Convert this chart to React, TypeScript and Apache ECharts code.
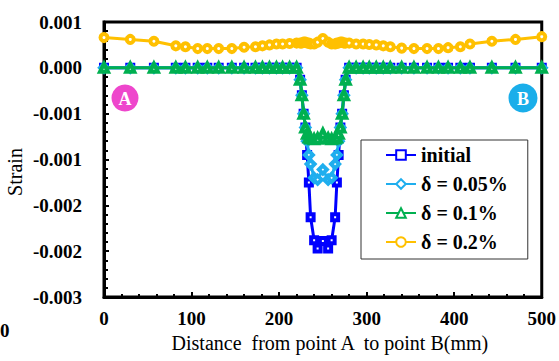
import React, { useEffect, useRef } from "react";
import * as echarts from "echarts";

// Distance from point A (mm)
const positions = [
  0, 30, 57, 82, 93, 107, 118, 131, 146, 160, 173, 181, 189, 197, 204, 212,
  220, 224, 226, 228, 230, 232, 234, 236, 240, 244, 250, 256, 260, 264, 266,
  268, 270, 272, 274, 276, 280, 288, 296, 303, 311, 319, 327, 340, 354, 369,
  382, 393, 407, 418, 443, 470, 500,
];

const flatLeft = [0, 0, 0, 0, 0, 0, 0, 0, 0, 0, 0, 0, 0, 0, 0, 0, 0];
const flatRight = [0, 0, 0, 0, 0, 0, 0, 0, 0, 0, 0, 0, 0, 0, 0, 0, 0];

const initialDip = [
  -0.00013, -0.0003, -0.0005, -0.00065, -0.00095, -0.00125, -0.00163, -0.00188,
  -0.00197, -0.00189, -0.00197, -0.00188, -0.00163, -0.00125, -0.00095,
  -0.00065, -0.0005, -0.0003, -0.00013,
];
const d005Dip = [
  -0.00013, -0.0003, -0.0005, -0.00065, -0.0008, -0.00095, -0.00105, -0.0012,
  -0.00122, -0.00111, -0.00122, -0.0012, -0.00105, -0.00095, -0.0008,
  -0.00065, -0.0005, -0.0003, -0.00013,
];
const d01Dip = [
  -0.00013, -0.0003, -0.0005, -0.00065, -0.00072, -0.00076, -0.00077, -0.00078,
  -0.00077, -0.00072, -0.00077, -0.00078, -0.00077, -0.00076, -0.00072,
  -0.00065, -0.0005, -0.0003, -0.00013,
];

const initialStrain = [...flatLeft, ...initialDip, ...flatRight];
const d005Strain = [...flatLeft, ...d005Dip, ...flatRight];
const d01Strain = [...flatLeft, ...d01Dip, ...flatRight];
const d02Strain = [
  0.00033, 0.00031, 0.00029, 0.00024, 0.00023, 0.00021, 0.00021, 0.00021,
  0.00021, 0.000225, 0.00023, 0.00024, 0.00025, 0.00026, 0.00026, 0.000265,
  0.00027, 0.00027, 0.00027, 0.00028, 0.00028, 0.00027, 0.00027, 0.00026,
  0.00026, 0.00028, 0.00032, 0.00028, 0.00026, 0.00026, 0.00027, 0.00027,
  0.00028, 0.00028, 0.00027, 0.00027, 0.00027, 0.00026, 0.00026, 0.000255,
  0.00025, 0.00024, 0.00023, 0.000215, 0.00021, 0.00021, 0.00021, 0.00022,
  0.00023, 0.00026, 0.00029, 0.00031, 0.00034,
];

const seriesNames = ["initial", "δ = 0.05%", "δ = 0.1%", "δ = 0.2%"];
const seriesValues = [initialStrain, d005Strain, d01Strain, d02Strain];
const seriesColors = ["#0000FF", "#1FAEEE", "#00B050", "#FFC000"];
const seriesSymbols = ["rect", "diamond", "triangle", "circle"];
const seriesSymbolSizes = [6, 8, 8, 7];

const SERIF = "'Liberation Serif', 'Times New Roman', serif";

function fmtStrain(v: number): string {
  const n = Math.round(Math.abs(v) * 2000);
  const thousandths = Math.ceil(n / 2);
  const s = (thousandths / 1000).toFixed(3);
  return v < -1e-12 ? "-" + s : s;
}

export default function App() {
  const ref = useRef<HTMLDivElement>(null);
  useEffect(() => {
    if (!ref.current) return;
    const chart = echarts.init(ref.current, null, { renderer: "svg" });
    const series = seriesNames.map((name, i) => ({
      name,
      type: "line",
      data: positions.map((x, j) => [x, seriesValues[i][j]]),
      symbol: seriesSymbols[i],
      symbolSize: seriesSymbolSizes[i],
      showAllSymbol: true,
      lineStyle: { color: seriesColors[i], width: 3 },
      itemStyle: { color: "#FFFFFF", borderColor: seriesColors[i], borderWidth: 4 },
      z: 2 + i,
    }));
    chart.setOption({
      animation: false,
      backgroundColor: "#FFFFFF",
      grid: {
        left: 104,
        right: 17,
        top: 22,
        bottom: 64,
        show: true,
        borderColor: "#000000",
        borderWidth: 3,
      },
      xAxis: {
        type: "value",
        min: 0,
        max: 500,
        interval: 100,
        minorTick: { show: true, splitNumber: 5, length: 3, lineStyle: { color: "#000", width: 2 } },
        axisLine: { onZero: false, lineStyle: { color: "#000", width: 3 } },
        axisTick: { inside: true, length: 5, lineStyle: { color: "#000", width: 2 } },
        splitLine: { show: false },
        axisLabel: {
          color: "#000",
          fontFamily: SERIF,
          fontWeight: "bold",
          fontSize: 19,
          margin: 12,
        },
        name: "Distance  from point A  to point B(mm)",
        nameLocation: "middle",
        nameGap: 35,
        nameTextStyle: {
          color: "#000",
          fontFamily: SERIF,
          fontSize: 20,
          padding: [0, 0, 0, 14],
        },
      },
      yAxis: {
        type: "value",
        min: -0.0025,
        max: 0.0005,
        interval: 0.0005,
        minorTick: { show: true, splitNumber: 5, length: 4, lineStyle: { color: "#000", width: 2 } },
        axisLine: { onZero: false, lineStyle: { color: "#000", width: 3 } },
        axisTick: { inside: true, length: 5, lineStyle: { color: "#000", width: 2 } },
        splitLine: { show: false },
        axisLabel: {
          color: "#000",
          fontFamily: SERIF,
          fontWeight: "bold",
          fontSize: 19,
          margin: 22,
          formatter: fmtStrain,
        },
      },
      legend: {
        orient: "vertical",
        left: 361,
        top: 140,
        padding: [5, 20, 7, 24],
        itemWidth: 30,
        itemHeight: 12,
        itemGap: 9,
        backgroundColor: "#FFFFFF",
        borderColor: "#333333",
        borderWidth: 1,
        borderRadius: 0,
        textStyle: {
          color: "#000",
          fontFamily: SERIF,
          fontWeight: "bold",
          fontSize: 20,
          lineHeight: 20,
        },
        data: seriesNames,
      },
      graphic: [
        {
          type: "text",
          x: 15,
          y: 172,
          rotation: Math.PI / 2,
          style: {
            text: "Strain",
            font: `20px ${SERIF}`,
            fill: "#000",
            align: "center",
            verticalAlign: "middle",
          },
        },
        {
          type: "text",
          x: 0,
          y: 330,
          style: {
            text: "0",
            font: `bold 19px ${SERIF}`,
            fill: "#000",
            align: "left",
            verticalAlign: "middle",
          },
        },
        {
          type: "circle",
          shape: { cx: 125, cy: 98, r: 13.5 },
          style: { fill: "#EE46CC" },
          z: 10,
        },
        {
          type: "text",
          x: 125,
          y: 99,
          style: {
            text: "A",
            font: `bold 18px ${SERIF}`,
            fill: "#FFFFFF",
            align: "center",
            verticalAlign: "middle",
          },
          z: 11,
        },
        {
          type: "circle",
          shape: { cx: 523, cy: 98, r: 14.5 },
          style: { fill: "#1AAEEA" },
          z: 10,
        },
        {
          type: "text",
          x: 523,
          y: 99,
          style: {
            text: "B",
            font: `bold 18px ${SERIF}`,
            fill: "#FFFFFF",
            align: "center",
            verticalAlign: "middle",
          },
          z: 11,
        },
      ],
      series,
    });
    return () => chart.dispose();
  }, []);
  return (
    <div
      ref={ref}
      style={{ position: "fixed", left: 0, top: 0, width: 559, height: 361 }}
    />
  );
}
